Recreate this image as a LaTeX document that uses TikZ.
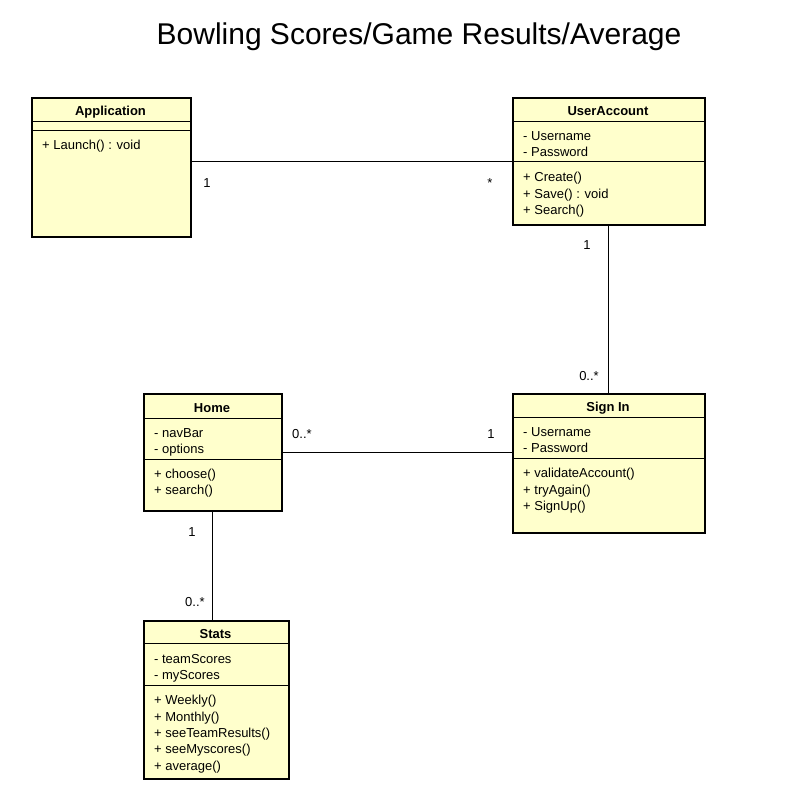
\documentclass[tikz,border=0pt]{standalone}
\usepackage{fontspec}
\setmainfont{Liberation Sans}
\usetikzlibrary{positioning}
\definecolor{classbg}{RGB}{255,255,204}

\tikzset{
  classbox/.style={draw, line width=1.6pt, fill=classbg, anchor=north west, inner sep=0pt},
  classname/.style={font=\bfseries\fontsize{13}{15}\selectfont, inner sep=0pt, anchor=base},
  member/.style={font=\fontsize{13}{15}\selectfont, inner sep=0pt, anchor=base west},
  mult/.style={font=\fontsize{13}{15}\selectfont, inner sep=0pt, anchor=base},
  sep/.style={line width=0.9pt},
  assoc/.style={line width=0.9pt}
}

\begin{document}
\begin{tikzpicture}[x=1pt,y=-1pt]
    \useasboundingbox (0,0) rectangle (787,795);

    % Title
    \node[font=\fontsize{30}{34}\selectfont, inner sep=0pt, anchor=base] (title) at (419,44) {Bowling Scores/Game Results/Average};

    % Application
    \node[classbox, minimum width=159, minimum height=139] (app) at (31,97) {};
    \draw[sep] (31,121) -- (190,121);
    \draw[sep] (31,130) -- (190,130);
    \node[classname] (appname) at (110.5,115) {Application};
    \node[member] (applaunch) at (42,149) {+ Launch() : void};

    % UserAccount
    \node[classbox, minimum width=192, minimum height=127] (ua) at (512,97) {};
    \draw[sep] (512,121) -- (704,121);
    \draw[sep] (512,161) -- (704,161);
    \node[classname] (uaname) at (608,115) {UserAccount};
    \node[member] (uauser) at (523,140) {- Username};
    \node[member] (uapass) at (523,156) {- Password};
    \node[member] (uacreate) at (523,181) {+ Create()};
    \node[member] (uasave) at (523,198) {+ Save() : void};
    \node[member] (uasearch) at (523,214) {+ Search()};

    % Sign In
    \node[classbox, minimum width=192, minimum height=139] (signin) at (512,393) {};
    \draw[sep] (512,417) -- (704,417);
    \draw[sep] (512,458) -- (704,458);
    \node[classname] (signinname) at (608,411) {Sign In};
    \node[member] (signinuser) at (523,436) {- Username};
    \node[member] (signinpass) at (523,452) {- Password};
    \node[member] (signinvalid) at (523,477) {+ validateAccount()};
    \node[member] (signinagain) at (523,494) {+ tryAgain()};
    \node[member] (signinup) at (523,510) {+ SignUp()};

    % Home
    \node[classbox, minimum width=138, minimum height=117] (home) at (143,393) {};
    \draw[sep] (143,418) -- (281,418);
    \draw[sep] (143,459) -- (281,459);
    \node[classname] (homename) at (212,412) {Home};
    \node[member] (homenav) at (154,437) {- navBar};
    \node[member] (homeopt) at (154,453) {- options};
    \node[member] (homechoose) at (154,478) {+ choose()};
    \node[member] (homesearch) at (154,494) {+ search()};

    % Stats
    \node[classbox, minimum width=145, minimum height=158] (stats) at (143,620) {};
    \draw[sep] (143,643) -- (288,643);
    \draw[sep] (143,685) -- (288,685);
    \node[classname] (statsname) at (215.5,638) {Stats};
    \node[member] (statsteam) at (154,663) {- teamScores};
    \node[member] (statsmy) at (154,679) {- myScores};
    \node[member] (statsweek) at (154,704) {+ Weekly()};
    \node[member] (statsmonth) at (154,721) {+ Monthly()};
    \node[member] (statsresults) at (154,737) {+ seeTeamResults()};
    \node[member] (statsmine) at (154,753) {+ seeMyscores()};
    \node[member] (statsavg) at (154,770) {+ average()};

    % Associations
    \draw[assoc] (app.east |- ua.west) -- (ua.west);
    \draw[assoc] (ua.south) -- (signin.north);
    \draw[assoc] (home.east) -- (home.east -| signin.west);
    \draw[assoc] (home.south) -- (home.south |- stats.north);

    % Multiplicities
    \node[mult] (appmult) at (207,187) {1};
    \node[mult] (uaappmult) at (490,187) {*};
    \node[mult] (uasignmult) at (587,249) {1};
    \node[mult] (signuamult) at (589,380) {0..*};
    \node[mult] (homesignmult) at (302,438) {0..*};
    \node[mult] (signhomemult) at (491,438) {1};
    \node[mult] (homestatsmult) at (192,536) {1};
    \node[mult] (statshomemult) at (195,606) {0..*};
\end{tikzpicture}
\end{document}
